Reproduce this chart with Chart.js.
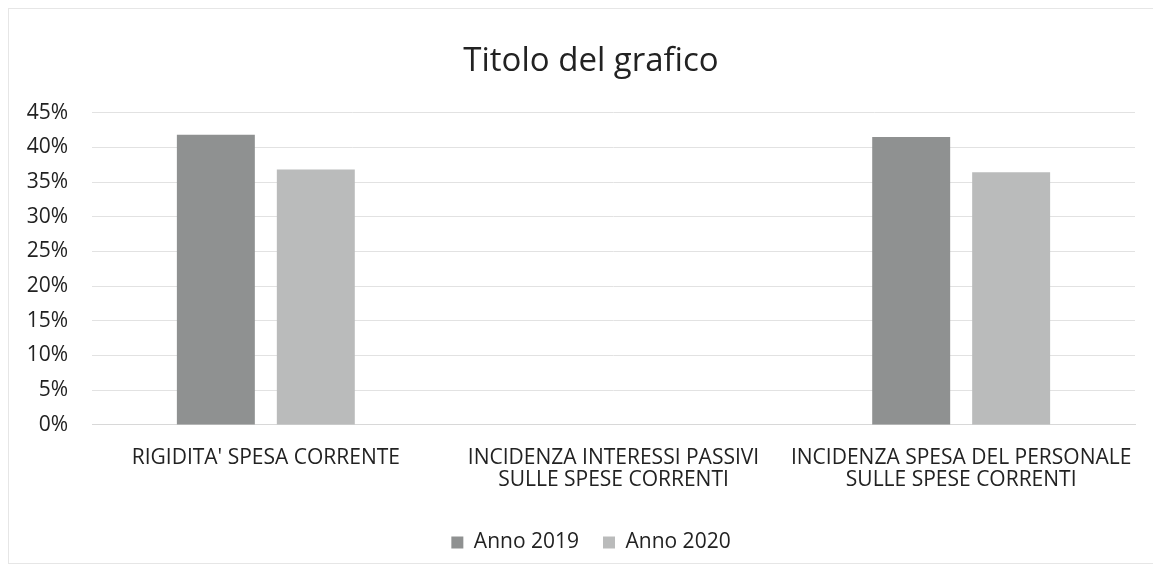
<!DOCTYPE html>
<html>
<head>
<meta charset="utf-8">
<script src="https://cdn.jsdelivr.net/npm/chart.js@4"></script>
<style>
  html, body { margin: 0; padding: 0; background: #fff; overflow: hidden; }
  #wrap { position: absolute; left: 8px; top: 8px; width: 1166px; height: 556px; border: 1px solid #e6e6e6; box-sizing: border-box; }
</style>
</head>
<body>
<div id="wrap"><canvas id="chart"></canvas></div>
<script>
// chart data
const categories = [
    ["RIGIDITA' SPESA CORRENTE"],
    ["INCIDENZA INTERESSI PASSIVI", "SULLE SPESE CORRENTI"],
    ["INCIDENZA SPESA DEL PERSONALE", "SULLE SPESE CORRENTI"]
];
const seriesNames = ['Anno 2019', 'Anno 2020'];
const anno2019 = [0.418, 0, 0.415];
const anno2020 = [0.368, 0, 0.364];
const yTicks = [0, 0.05, 0.10, 0.15, 0.20, 0.25, 0.30, 0.35, 0.40, 0.45];

const ctx = document.getElementById('chart').getContext('2d');
new Chart(ctx, {
    type: 'bar',
    data: {
        labels: categories,
        datasets: [{
            label: seriesNames[0],
            data: anno2019,
            backgroundColor: '#8f9191',
            yAxisID: 'y',
            categoryPercentage: 0.575,
            barPercentage: 0.78
        }, {
            label: seriesNames[1],
            data: anno2020,
            backgroundColor: '#babbbb',
            yAxisID: 'y',
            categoryPercentage: 0.575,
            barPercentage: 0.78
        }]
    },
    options: {
        responsive: true,
        maintainAspectRatio: false,
        animation: false,
        layout: { padding: { left: 9, right: 9, top: 33, bottom: 0 } },
        plugins: {
            title: {
                display: true,
                text: 'Titolo del grafico',
                color: '#222',
                font: { family: 'Open Sans', size: 33, weight: 'normal' },
                padding: { top: 0, bottom: 31 }
            },
            legend: {
                position: 'bottom',
                labels: {
                    color: '#222',
                    font: { family: 'Open Sans', size: 21 },
                    boxWidth: 12,
                    boxHeight: 12,
                    padding: 24
                }
            },
            tooltip: { enabled: false }
        },
        scales: {
            y: {
                min: 0,
                max: 0.45,
                afterBuildTicks: axis => { axis.ticks = yTicks.map(v => ({ value: v })); },
                afterFit: axis => { axis.width = 74; },
                ticks: {
                    color: '#222',
                    font: { family: 'Open Sans', size: 21 },
                    padding: 24,
                    callback: v => Math.round(v * 100) + '%'
                },
                grid: { color: '#e2e2e2', drawTicks: false },
                border: { display: false }
            },
            // empty right margin, keeps title and legend centred like the original
            yRight: {
                position: 'right',
                min: 0,
                max: 0.45,
                afterFit: axis => { axis.width = 29; },
                ticks: { display: false },
                grid: { display: false },
                border: { display: false }
            },
            x: {
                afterFit: axis => { axis.height += 3; },
                ticks: {
                    color: '#222',
                    font: { family: 'Open Sans', size: 21, lineHeight: 1.05 },
                    padding: 14,
                    maxRotation: 0
                },
                grid: { display: false },
                border: { color: '#d8d8d8' }
            }
        }
    }
});
</script>
</body>
</html>
